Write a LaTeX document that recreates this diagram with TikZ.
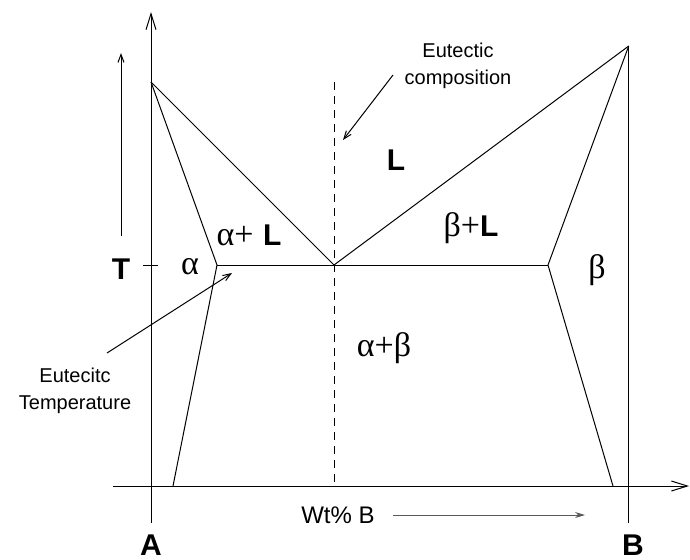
\documentclass[tikz,border=0pt]{standalone}
\usepackage{fontspec}
\setmainfont{Liberation Sans}
\newfontfamily\grkfont{Liberation Serif}
\usetikzlibrary{arrows.meta}
\newcommand{\alf}{{\grkfont α}}
\newcommand{\bet}{{\grkfont β}}
\newcommand{\pls}{{\grkfont +}}
\begin{document}
\begin{tikzpicture}[x=0.5pt,y=-0.5pt,>={Straight Barb[length=4pt,width=3pt]},
  every node/.style={inner sep=0pt},
  every path/.style={line width=0.5pt},
  axis/.style={-{Straight Barb[length=8pt,width=5pt]}},
  lbl/.style={font=\fontsize{10}{13.5}\selectfont,align=center},
  big/.style={font=\fontsize{15}{17}\selectfont\bfseries},
  grk/.style={font=\fontsize{17}{19}\selectfont}]
\useasboundingbox (0,0) rectangle (690,559);
% corners of the phase fields
\coordinate (TA) at (151,82);
\coordinate (TB) at (628.7,46);
\coordinate (E) at (334,265);
\coordinate (Sa) at (217,265);
\coordinate (Sb) at (548,265);
\coordinate (Ba) at (173,486);
\coordinate (Bb) at (613,486);
\coordinate (Etop) at (334,82);
\coordinate (Ebot) at (334,486);
% axes
\coordinate (Ybot) at (151,523);
\coordinate (Ytop) at (151,12);
\coordinate (Xl) at (113,486);
\coordinate (Xr) at (689,486);
\coordinate (Bbot) at (628.7,523);
\draw[axis] (Ybot) -- (Ytop);
\draw[axis] (Xl) -- (Xr);
\draw (Bbot) -- (TB);
\draw (143,265) -- (158,265);
% liquidus, solidus, solvus
\draw (TA) -- (E) -- (TB);
\draw (TA) -- (Sa) -- (Ba);
\draw (TB) -- (Sb) -- (Bb);
\draw (Sa) -- (Sb);
\draw[dashed,dash pattern=on 4pt off 3pt] (Etop) -- (Ebot);
% labels
\node[big] (T) at (121,269) {T};
\node[big] (A) at (151,545) {A};
\node[big] (B) at (633,545) {B};
\node[big] (L) at (396,160) {L};
\node[grk] (al) at (190,267) {\alf};
\node[grk] (be) at (597,270) {\bet};
\node[grk] (alL) at (249,235) {\alf\pls\ {\fontsize{15}{17}\selectfont\bfseries L}};
\node[grk] (beL) at (471,228) {\bet\pls{\fontsize{15}{17}\selectfont\bfseries L}};
\node[grk] (ab) at (384,348) {\alf\pls\bet};
\node[lbl] (ecomp) at (458,66) {Eutectic\\composition};
\node[lbl] (etemp) at (75,391) {Eutecitc\\Temperature};
\node[font=\fontsize{12}{14}\selectfont] (wt) at (338,515) {Wt\% B};
% pointers
\coordinate (Tlo) at (121,236);
\coordinate (Thi) at (121,53);
\draw[->] (Tlo) -- (Thi);
\coordinate (ecs) at (393,75);
\coordinate (ece) at (343,140);
\draw[->] (ecs) -- (ece);
\coordinate (ets) at (107,353);
\coordinate (ete) at (232,273);
\draw[->] (ets) -- (ete);
\coordinate (ws) at (393,515);
\coordinate (we) at (585,515);
\draw[black!65,-{Stealth[length=5pt,width=3pt]}] (ws) -- (we);
\end{tikzpicture}
\end{document}
